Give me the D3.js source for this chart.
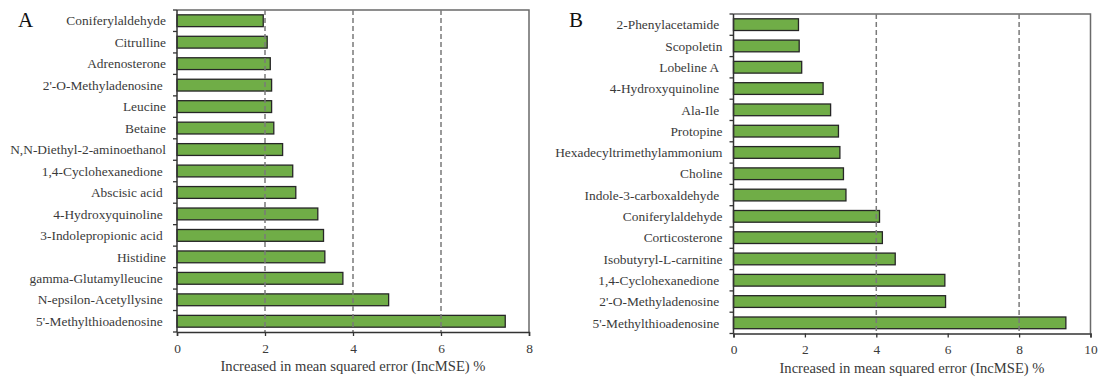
<!DOCTYPE html>
<html>
<head>
<meta charset="utf-8">
<script src="https://cdn.jsdelivr.net/npm/d3@7"></script>
<style>
  html, body { margin: 0; padding: 0; background: #fff; }
  svg { display: block; }
  text { font-family: "Liberation Serif", "Times New Roman", serif; }
</style>
</head>
<body>
<svg id="chart" width="1105" height="383"></svg>
<script>
// Panel A: metabolites ranked by IncMSE
const catsA = [
  "Coniferylaldehyde", "Citrulline", "Adrenosterone", "2'-O-Methyladenosine\u00a0",
  "Leucine", "Betaine", "N,N-Diethyl-2-aminoethanol", "1,4-Cyclohexanedione\u00a0",
  "Abscisic acid\u00a0", "4-Hydroxyquinoline\u00a0", "3-Indolepropionic acid\u00a0", "Histidine",
  "gamma-Glutamylleucine\u00a0", "N-epsilon-Acetyllysine\u00a0", "5'-Methylthioadenosine\u00a0"
];
const valuesA = [1.96, 2.05, 2.12, 2.15, 2.15, 2.20, 2.40, 2.63, 2.70, 3.20, 3.33, 3.36, 3.77, 4.81, 7.46];
const ticksA = [0, 2, 4, 6, 8];
const gridA = [2, 4, 6];

// Panel B: metabolites ranked by IncMSE
const catsB = [
  "2-Phenylacetamide\u00a0", "Scopoletin", "Lobeline A\u00a0", "4-Hydroxyquinoline\u00a0",
  "Ala-Ile\u00a0", "Protopine", "Hexadecyltrimethylammonium", "Choline",
  "Indole-3-carboxaldehyde\u00a0", "Coniferylaldehyde", "Corticosterone", "Isobutyryl-L-carnitine",
  "1,4-Cyclohexanedione\u00a0", "2'-O-Methyladenosine\u00a0", "5'-Methylthioadenosine\u00a0"
];
const valuesB = [1.82, 1.84, 1.91, 2.51, 2.72, 2.94, 2.98, 3.08, 3.15, 4.09, 4.17, 4.53, 5.92, 5.94, 9.31];
const ticksB = [0, 2, 4, 6, 8, 10];
const gridB = [4, 8];

const axisTitle = "Increased in mean squared error (IncMSE) %";

const svg = d3.select("#chart");

function drawPanel(opt) {
  const g = svg.append("g");
  const x = d3.scaleLinear().domain([0, opt.max]).range([opt.left, opt.right]);
  const y = d3.scaleBand().domain(opt.cats).range([opt.top, opt.bottom])
    .paddingInner(0.45).paddingOuter(0.225);
  const step = y.step();

  // frame (top and right edges)
  g.append("path")
    .attr("d", `M${opt.left},${opt.top}H${opt.right}V${opt.bottom}`)
    .attr("fill", "none").attr("stroke", "#6a6a6a").attr("stroke-width", 1.5);

  // bars
  g.selectAll("rect.bar").data(opt.cats.map((c, i) => ({ c, v: opt.values[i] })))
    .join("rect").attr("class", "bar")
    .attr("x", x(0))
    .attr("y", d => y(d.c))
    .attr("width", d => x(d.v) - x(0))
    .attr("height", y.bandwidth())
    .attr("fill", "#70ad47")
    .attr("stroke", "#262626").attr("stroke-width", 1.3);

  // dashed reference lines
  g.selectAll("line.grid").data(opt.grid).join("line").attr("class", "grid")
    .attr("x1", d => x(d)).attr("x2", d => x(d))
    .attr("y1", opt.top).attr("y2", opt.bottom)
    .attr("stroke", "#7a7a7a").attr("stroke-width", 1.5)
    .attr("stroke-dasharray", "5,3");

  // category boundary ticks on the left axis
  const bounds = d3.range(opt.cats.length + 1).map(i => opt.top + i * step);
  g.selectAll("line.ytick").data(bounds).join("line").attr("class", "ytick")
    .attr("x1", opt.left - 4).attr("x2", opt.left)
    .attr("y1", d => d).attr("y2", d => d)
    .attr("stroke", "#333").attr("stroke-width", 1.3);

  // category labels
  g.selectAll("text.cat").data(opt.cats).join("text").attr("class", "cat")
    .attr("x", opt.left - 11)
    .attr("y", d => y(d) + y.bandwidth() / 2)
    .attr("dy", "0.35em")
    .attr("text-anchor", "end")
    .attr("font-size", 13.4)
    .attr("fill", "#3a3a3a")
    .text(d => d);

  // x axis
  const xAxis = d3.axisBottom(x).tickValues(opt.ticks).tickSize(4).tickPadding(7)
    .tickFormat(d3.format("d"));
  const ax = g.append("g").attr("transform", `translate(0,${opt.bottom})`).call(xAxis);
  ax.select(".domain").attr("stroke", "#333").attr("stroke-width", 1.5);
  ax.selectAll(".tick line").attr("stroke", "#333").attr("stroke-width", 1.3);
  ax.selectAll(".tick text")
    .attr("font-size", 13.4).attr("fill", "#3a3a3a");

  // left axis line
  g.append("line")
    .attr("x1", opt.left).attr("x2", opt.left)
    .attr("y1", opt.top).attr("y2", opt.bottom)
    .attr("stroke", "#333").attr("stroke-width", 1.5);

  // axis title
  g.append("text")
    .attr("x", (opt.left + opt.right) / 2)
    .attr("y", opt.bottom + 39)
    .attr("text-anchor", "middle")
    .attr("font-size", 14.6)
    .attr("fill", "#3a3a3a")
    .text(axisTitle);

  // panel letter
  g.append("text")
    .attr("x", opt.letterX).attr("y", 27)
    .attr("font-size", 21)
    .attr("fill", "#111")
    .text(opt.letter);
}

drawPanel({ cats: catsA, values: valuesA, ticks: ticksA, grid: gridA, max: 8,
  left: 177, right: 529, top: 10, bottom: 332, letter: "A", letterX: 18 });
drawPanel({ cats: catsB, values: valuesB, ticks: ticksB, grid: gridB, max: 10,
  left: 733.5, right: 1090.5, top: 14, bottom: 333.5, letter: "B", letterX: 569 });
</script>
</body>
</html>
